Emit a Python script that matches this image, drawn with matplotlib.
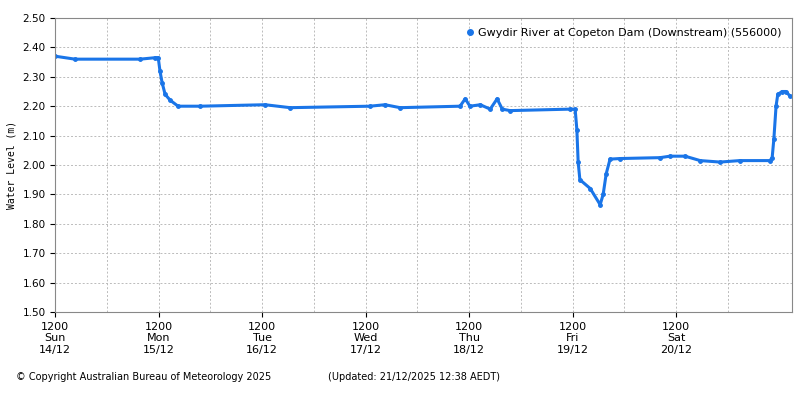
import matplotlib
matplotlib.use("Agg")
import matplotlib.pyplot as plt
from matplotlib.lines import Line2D

hours = [0, 4.6, 19.7, 23.2, 23.9, 24.3, 24.8, 25.5, 26.7, 28.5, 33.6, 48.7, 54.5, 73.0, 76.5, 80.0,
         93.9, 95.1, 96.2, 98.6, 100.9, 102.5, 103.7, 105.5, 119.4, 120.6, 121.0, 121.3, 121.7, 124.1,
         126.4, 127.1, 127.8, 128.7, 131.0, 140.3, 142.6, 146.1, 149.6, 154.2, 158.8, 165.8, 166.3,
         166.7, 167.2, 167.6, 168.6, 169.5, 170.4]
level = [2.37, 2.36, 2.36, 2.365, 2.365, 2.32, 2.28, 2.24, 2.22, 2.20, 2.20, 2.205, 2.195, 2.20, 2.205, 2.195,
         2.20, 2.225, 2.20, 2.205, 2.19, 2.225, 2.19, 2.185, 2.19, 2.19, 2.12, 2.01, 1.95, 1.92,
         1.865, 1.90, 1.97, 2.02, 2.022, 2.025, 2.03, 2.03, 2.015, 2.01, 2.015, 2.015, 2.025,
         2.09, 2.20, 2.24, 2.25, 2.25, 2.235]
tick_labels = ["1200\nSun\n14/12", "1200\nMon\n15/12", "1200\nTue\n16/12", "1200\nWed\n17/12",
               "1200\nThu\n18/12", "1200\nFri\n19/12", "1200\nSat\n20/12"]
series_name = "Gwydir River at Copeton Dam (Downstream) (556000)"

color = "#1a75e8"
fig = plt.figure(figsize=(8, 4), dpi=100)
ax = fig.add_axes([0.069, 0.22, 0.921, 0.735])
ax.plot(hours, level, color=color, lw=2.2, marker="o", ms=2.5)
ax.set_xlim(0, 170.9)
ax.set_ylim(1.5, 2.5)
ax.set_yticks([1.5 + 0.1 * i for i in range(11)])
ax.set_yticklabels([f"{1.5 + 0.1 * i:.2f}" for i in range(11)], fontsize=7.5)
ax.set_xticks([24 * i for i in range(7)])
ax.set_xticklabels(tick_labels, fontsize=8)
ax.set_xticks([12 + 24 * i for i in range(7)], minor=True)
ax.tick_params(which="minor", length=0)
ax.grid(True, which="both", ls=(0, (2, 2)), color="#bbbbbb", lw=0.7)
ax.set_ylabel("Water Level (m)", fontsize=7, family="DejaVu Sans Mono")
for s in ax.spines.values():
    s.set_color("#888888")
handle = Line2D([], [], color=color, marker="o", ms=4, ls="none")
ax.legend([handle], [series_name], loc="upper right", frameon=False, fontsize=8,
          handlelength=0.8, handletextpad=0.4)
fig.text(0.02, 0.05, "© Copyright Australian Bureau of Meteorology 2025", fontsize=7)
fig.text(0.41, 0.05, "(Updated: 21/12/2025 12:38 AEDT)", fontsize=7)
fig.savefig("out.png")
